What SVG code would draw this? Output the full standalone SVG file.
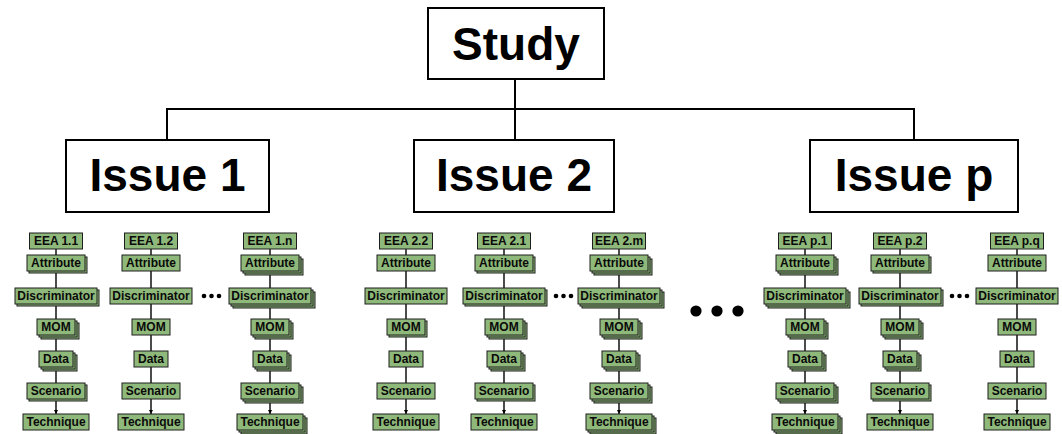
<svg xmlns="http://www.w3.org/2000/svg" width="1062" height="434" viewBox="0 0 1062 434">
  <style>
    .big { fill: #ffffff; stroke: #000000; stroke-width: 2; }
    .bigt { font-family: "Liberation Sans", Arial, sans-serif; font-weight: bold; font-size: 46px; text-anchor: middle; fill: #000000; }
    .tree { fill: none; stroke: #000000; stroke-width: 2; }
    .b { fill: #8fb97a; stroke: #1e1e1e; stroke-width: 1; }
    .t { font-family: "Liberation Sans", Arial, sans-serif; font-weight: bold; font-size: 12px; text-anchor: middle; fill: #0a0a0a; }
    .lnk { fill: none; stroke: #000000; stroke-width: 1.4; marker-end: url(#ah); }
    .dot { fill: #000000; }
  </style>
  <defs>
    <marker id="ah" viewBox="0 0 6 6" refX="6" refY="3" markerWidth="4.5" markerHeight="4.5" markerUnits="userSpaceOnUse" orient="auto">
      <path d="M0,0 L6,3 L0,6 z" fill="#000000"/>
    </marker>
  </defs>

  <!-- top-level hierarchy -->
  <g id="connectors-tree">
    <path class="tree" d="M515,79 V140"/>
    <path class="tree" d="M167,140 V109 H914 V140"/>
  </g>
  <g id="study">
    <rect class="big" x="428" y="8" width="176" height="71"/>
    <text class="bigt" x="516" y="60">Study</text>
  </g>
  <g id="issue-1">
    <rect class="big" x="66" y="140" width="203" height="72"/>
    <text class="bigt" x="167.5" y="191">Issue 1</text>
  </g>
  <g id="issue-2">
    <rect class="big" x="414" y="140" width="200" height="72"/>
    <text class="bigt" x="514" y="191">Issue 2</text>
  </g>
  <g id="issue-p">
    <rect class="big" x="810" y="140" width="208" height="72"/>
    <text class="bigt" x="914" y="191">Issue p</text>
  </g>

  <!-- vertical chains: EEA -> Attribute -> Discriminator -> MOM -> Data -> Scenario -> Technique -->
  <g id="connectors-chains">
    <path class="lnk" d="M56,249 V255 M56,271 V288 M56,304 V319 M56,335 V351 M56,367 V383 M56,399 V414"/>
    <path class="lnk" d="M151,249 V255 M151,271 V288 M151,304 V319 M151,335 V351 M151,367 V383 M151,399 V414"/>
    <path class="lnk" d="M270,249 V255 M270,271 V288 M270,304 V319 M270,335 V351 M270,367 V383 M270,399 V414"/>
    <path class="lnk" d="M406,249 V255 M406,271 V288 M406,304 V319 M406,335 V351 M406,367 V383 M406,399 V414"/>
    <path class="lnk" d="M504,249 V255 M504,271 V288 M504,304 V319 M504,335 V351 M504,367 V383 M504,399 V414"/>
    <path class="lnk" d="M619,249 V255 M619,271 V288 M619,304 V319 M619,335 V351 M619,367 V383 M619,399 V414"/>
    <path class="lnk" d="M805,249 V255 M805,271 V288 M805,304 V319 M805,335 V351 M805,367 V383 M805,399 V414"/>
    <path class="lnk" d="M900,249 V255 M900,271 V288 M900,304 V319 M900,335 V351 M900,367 V383 M900,399 V414"/>
    <path class="lnk" d="M1017,249 V255 M1017,271 V288 M1017,304 V319 M1017,335 V351 M1017,367 V383 M1017,399 V414"/>
  </g>

  <!-- column EEA 1.1 -->
  <g id="eea-1-1" transform="translate(56,233)"><rect class="b" x="-26.5" y="0" width="53" height="16"/><text class="t" x="0" y="12.3">EEA 1.1</text></g>
  <g id="attr-1-1" transform="translate(56,255)"><rect class="b" x="-27" y="2" width="58" height="16"/><rect class="b" x="-29" y="0" width="58" height="16"/><text class="t" x="0" y="12.3">Attribute</text></g>
  <g id="disc-1-1" transform="translate(56,288)"><rect class="b" x="-39" y="2" width="82" height="16"/><rect class="b" x="-41" y="0" width="82" height="16"/><text class="t" x="0" y="12.3">Discriminator</text></g>
  <g id="mom-1-1" transform="translate(56,319)"><rect class="b" x="-15" y="4" width="38" height="16"/><rect class="b" x="-17" y="2" width="38" height="16"/><rect class="b" x="-19" y="0" width="38" height="16"/><text class="t" x="0" y="12.3">MOM</text></g>
  <g id="data-1-1" transform="translate(56,351)"><rect class="b" x="-13" y="4" width="34" height="16"/><rect class="b" x="-15" y="2" width="34" height="16"/><rect class="b" x="-17" y="0" width="34" height="16"/><text class="t" x="0" y="12.3">Data</text></g>
  <g id="scen-1-1" transform="translate(56,383)"><rect class="b" x="-27" y="2" width="58" height="16"/><rect class="b" x="-29" y="0" width="58" height="16"/><text class="t" x="0" y="12.3">Scenario</text></g>
  <g id="tech-1-1" transform="translate(56,414)"><rect class="b" x="-33" y="0" width="66" height="16"/><text class="t" x="0" y="12.3">Technique</text></g>

  <!-- column EEA 1.2 -->
  <g id="eea-1-2" transform="translate(151,233)"><rect class="b" x="-26.5" y="0" width="53" height="16"/><text class="t" x="0" y="12.3">EEA 1.2</text></g>
  <g id="attr-1-2" transform="translate(151,255)"><rect class="b" x="-29" y="0" width="58" height="16"/><text class="t" x="0" y="12.3">Attribute</text></g>
  <g id="disc-1-2" transform="translate(151,288)"><rect class="b" x="-41" y="0" width="82" height="16"/><text class="t" x="0" y="12.3">Discriminator</text></g>
  <g id="mom-1-2" transform="translate(151,319)"><rect class="b" x="-19" y="0" width="38" height="16"/><text class="t" x="0" y="12.3">MOM</text></g>
  <g id="data-1-2" transform="translate(151,351)"><rect class="b" x="-17" y="0" width="34" height="16"/><text class="t" x="0" y="12.3">Data</text></g>
  <g id="scen-1-2" transform="translate(151,383)"><rect class="b" x="-29" y="0" width="58" height="16"/><text class="t" x="0" y="12.3">Scenario</text></g>
  <g id="tech-1-2" transform="translate(151,414)"><rect class="b" x="-33" y="0" width="66" height="16"/><text class="t" x="0" y="12.3">Technique</text></g>

  <!-- column EEA 1.n -->
  <g id="eea-1-n" transform="translate(270,233)"><rect class="b" x="-26.5" y="0" width="53" height="16"/><text class="t" x="0" y="12.3">EEA 1.n</text></g>
  <g id="attr-1-n" transform="translate(270,255)"><rect class="b" x="-25" y="4" width="58" height="16"/><rect class="b" x="-27" y="2" width="58" height="16"/><rect class="b" x="-29" y="0" width="58" height="16"/><text class="t" x="0" y="12.3">Attribute</text></g>
  <g id="disc-1-n" transform="translate(270,288)"><rect class="b" x="-37" y="4" width="82" height="16"/><rect class="b" x="-39" y="2" width="82" height="16"/><rect class="b" x="-41" y="0" width="82" height="16"/><text class="t" x="0" y="12.3">Discriminator</text></g>
  <g id="mom-1-n" transform="translate(270,319)"><rect class="b" x="-15" y="4" width="38" height="16"/><rect class="b" x="-17" y="2" width="38" height="16"/><rect class="b" x="-19" y="0" width="38" height="16"/><text class="t" x="0" y="12.3">MOM</text></g>
  <g id="data-1-n" transform="translate(270,351)"><rect class="b" x="-13" y="4" width="34" height="16"/><rect class="b" x="-15" y="2" width="34" height="16"/><rect class="b" x="-17" y="0" width="34" height="16"/><text class="t" x="0" y="12.3">Data</text></g>
  <g id="scen-1-n" transform="translate(270,383)"><rect class="b" x="-25" y="4" width="58" height="16"/><rect class="b" x="-27" y="2" width="58" height="16"/><rect class="b" x="-29" y="0" width="58" height="16"/><text class="t" x="0" y="12.3">Scenario</text></g>
  <g id="tech-1-n" transform="translate(270,414)"><rect class="b" x="-29" y="4" width="66" height="16"/><rect class="b" x="-31" y="2" width="66" height="16"/><rect class="b" x="-33" y="0" width="66" height="16"/><text class="t" x="0" y="12.3">Technique</text></g>

  <!-- column EEA 2.2 -->
  <g id="eea-2-2" transform="translate(406,233)"><rect class="b" x="-26.5" y="0" width="53" height="16"/><text class="t" x="0" y="12.3">EEA 2.2</text></g>
  <g id="attr-2-2" transform="translate(406,255)"><rect class="b" x="-29" y="0" width="58" height="16"/><text class="t" x="0" y="12.3">Attribute</text></g>
  <g id="disc-2-2" transform="translate(406,288)"><rect class="b" x="-41" y="0" width="82" height="16"/><text class="t" x="0" y="12.3">Discriminator</text></g>
  <g id="mom-2-2" transform="translate(406,319)"><rect class="b" x="-17" y="2" width="38" height="16"/><rect class="b" x="-19" y="0" width="38" height="16"/><text class="t" x="0" y="12.3">MOM</text></g>
  <g id="data-2-2" transform="translate(406,351)"><rect class="b" x="-17" y="0" width="34" height="16"/><text class="t" x="0" y="12.3">Data</text></g>
  <g id="scen-2-2" transform="translate(406,383)"><rect class="b" x="-29" y="0" width="58" height="16"/><text class="t" x="0" y="12.3">Scenario</text></g>
  <g id="tech-2-2" transform="translate(406,414)"><rect class="b" x="-33" y="0" width="66" height="16"/><text class="t" x="0" y="12.3">Technique</text></g>

  <!-- column EEA 2.1 -->
  <g id="eea-2-1" transform="translate(504,233)"><rect class="b" x="-26.5" y="0" width="53" height="16"/><text class="t" x="0" y="12.3">EEA 2.1</text></g>
  <g id="attr-2-1" transform="translate(504,255)"><rect class="b" x="-27" y="2" width="58" height="16"/><rect class="b" x="-29" y="0" width="58" height="16"/><text class="t" x="0" y="12.3">Attribute</text></g>
  <g id="disc-2-1" transform="translate(504,288)"><rect class="b" x="-39" y="2" width="82" height="16"/><rect class="b" x="-41" y="0" width="82" height="16"/><text class="t" x="0" y="12.3">Discriminator</text></g>
  <g id="mom-2-1" transform="translate(504,319)"><rect class="b" x="-15" y="4" width="38" height="16"/><rect class="b" x="-17" y="2" width="38" height="16"/><rect class="b" x="-19" y="0" width="38" height="16"/><text class="t" x="0" y="12.3">MOM</text></g>
  <g id="data-2-1" transform="translate(504,351)"><rect class="b" x="-13" y="4" width="34" height="16"/><rect class="b" x="-15" y="2" width="34" height="16"/><rect class="b" x="-17" y="0" width="34" height="16"/><text class="t" x="0" y="12.3">Data</text></g>
  <g id="scen-2-1" transform="translate(504,383)"><rect class="b" x="-27" y="2" width="58" height="16"/><rect class="b" x="-29" y="0" width="58" height="16"/><text class="t" x="0" y="12.3">Scenario</text></g>
  <g id="tech-2-1" transform="translate(504,414)"><rect class="b" x="-33" y="0" width="66" height="16"/><text class="t" x="0" y="12.3">Technique</text></g>

  <!-- column EEA 2.m -->
  <g id="eea-2-m" transform="translate(619,233)"><rect class="b" x="-26.5" y="0" width="53" height="16"/><text class="t" x="0" y="12.3">EEA 2.m</text></g>
  <g id="attr-2-m" transform="translate(619,255)"><rect class="b" x="-25" y="4" width="58" height="16"/><rect class="b" x="-27" y="2" width="58" height="16"/><rect class="b" x="-29" y="0" width="58" height="16"/><text class="t" x="0" y="12.3">Attribute</text></g>
  <g id="disc-2-m" transform="translate(619,288)"><rect class="b" x="-37" y="4" width="82" height="16"/><rect class="b" x="-39" y="2" width="82" height="16"/><rect class="b" x="-41" y="0" width="82" height="16"/><text class="t" x="0" y="12.3">Discriminator</text></g>
  <g id="mom-2-m" transform="translate(619,319)"><rect class="b" x="-15" y="4" width="38" height="16"/><rect class="b" x="-17" y="2" width="38" height="16"/><rect class="b" x="-19" y="0" width="38" height="16"/><text class="t" x="0" y="12.3">MOM</text></g>
  <g id="data-2-m" transform="translate(619,351)"><rect class="b" x="-13" y="4" width="34" height="16"/><rect class="b" x="-15" y="2" width="34" height="16"/><rect class="b" x="-17" y="0" width="34" height="16"/><text class="t" x="0" y="12.3">Data</text></g>
  <g id="scen-2-m" transform="translate(619,383)"><rect class="b" x="-25" y="4" width="58" height="16"/><rect class="b" x="-27" y="2" width="58" height="16"/><rect class="b" x="-29" y="0" width="58" height="16"/><text class="t" x="0" y="12.3">Scenario</text></g>
  <g id="tech-2-m" transform="translate(619,414)"><rect class="b" x="-29" y="4" width="66" height="16"/><rect class="b" x="-31" y="2" width="66" height="16"/><rect class="b" x="-33" y="0" width="66" height="16"/><text class="t" x="0" y="12.3">Technique</text></g>

  <!-- column EEA p.1 -->
  <g id="eea-p-1" transform="translate(805,233)"><rect class="b" x="-26.5" y="0" width="53" height="16"/><text class="t" x="0" y="12.3">EEA p.1</text></g>
  <g id="attr-p-1" transform="translate(805,255)"><rect class="b" x="-25" y="4" width="58" height="16"/><rect class="b" x="-27" y="2" width="58" height="16"/><rect class="b" x="-29" y="0" width="58" height="16"/><text class="t" x="0" y="12.3">Attribute</text></g>
  <g id="disc-p-1" transform="translate(805,288)"><rect class="b" x="-37" y="4" width="82" height="16"/><rect class="b" x="-39" y="2" width="82" height="16"/><rect class="b" x="-41" y="0" width="82" height="16"/><text class="t" x="0" y="12.3">Discriminator</text></g>
  <g id="mom-p-1" transform="translate(805,319)"><rect class="b" x="-15" y="4" width="38" height="16"/><rect class="b" x="-17" y="2" width="38" height="16"/><rect class="b" x="-19" y="0" width="38" height="16"/><text class="t" x="0" y="12.3">MOM</text></g>
  <g id="data-p-1" transform="translate(805,351)"><rect class="b" x="-13" y="4" width="34" height="16"/><rect class="b" x="-15" y="2" width="34" height="16"/><rect class="b" x="-17" y="0" width="34" height="16"/><text class="t" x="0" y="12.3">Data</text></g>
  <g id="scen-p-1" transform="translate(805,383)"><rect class="b" x="-25" y="4" width="58" height="16"/><rect class="b" x="-27" y="2" width="58" height="16"/><rect class="b" x="-29" y="0" width="58" height="16"/><text class="t" x="0" y="12.3">Scenario</text></g>
  <g id="tech-p-1" transform="translate(805,414)"><rect class="b" x="-29" y="4" width="66" height="16"/><rect class="b" x="-31" y="2" width="66" height="16"/><rect class="b" x="-33" y="0" width="66" height="16"/><text class="t" x="0" y="12.3">Technique</text></g>

  <!-- column EEA p.2 -->
  <g id="eea-p-2" transform="translate(900,233)"><rect class="b" x="-26.5" y="0" width="53" height="16"/><text class="t" x="0" y="12.3">EEA p.2</text></g>
  <g id="attr-p-2" transform="translate(900,255)"><rect class="b" x="-27" y="2" width="58" height="16"/><rect class="b" x="-29" y="0" width="58" height="16"/><text class="t" x="0" y="12.3">Attribute</text></g>
  <g id="disc-p-2" transform="translate(900,288)"><rect class="b" x="-39" y="2" width="82" height="16"/><rect class="b" x="-41" y="0" width="82" height="16"/><text class="t" x="0" y="12.3">Discriminator</text></g>
  <g id="mom-p-2" transform="translate(900,319)"><rect class="b" x="-15" y="4" width="38" height="16"/><rect class="b" x="-17" y="2" width="38" height="16"/><rect class="b" x="-19" y="0" width="38" height="16"/><text class="t" x="0" y="12.3">MOM</text></g>
  <g id="data-p-2" transform="translate(900,351)"><rect class="b" x="-13" y="4" width="34" height="16"/><rect class="b" x="-15" y="2" width="34" height="16"/><rect class="b" x="-17" y="0" width="34" height="16"/><text class="t" x="0" y="12.3">Data</text></g>
  <g id="scen-p-2" transform="translate(900,383)"><rect class="b" x="-27" y="2" width="58" height="16"/><rect class="b" x="-29" y="0" width="58" height="16"/><text class="t" x="0" y="12.3">Scenario</text></g>
  <g id="tech-p-2" transform="translate(900,414)"><rect class="b" x="-33" y="0" width="66" height="16"/><text class="t" x="0" y="12.3">Technique</text></g>

  <!-- column EEA p.q -->
  <g id="eea-p-q" transform="translate(1017,233)"><rect class="b" x="-26.5" y="0" width="53" height="16"/><text class="t" x="0" y="12.3">EEA p.q</text></g>
  <g id="attr-p-q" transform="translate(1017,255)"><rect class="b" x="-29" y="0" width="58" height="16"/><text class="t" x="0" y="12.3">Attribute</text></g>
  <g id="disc-p-q" transform="translate(1017,288)"><rect class="b" x="-41" y="0" width="82" height="16"/><text class="t" x="0" y="12.3">Discriminator</text></g>
  <g id="mom-p-q" transform="translate(1017,319)"><rect class="b" x="-19" y="0" width="38" height="16"/><text class="t" x="0" y="12.3">MOM</text></g>
  <g id="data-p-q" transform="translate(1017,351)"><rect class="b" x="-17" y="0" width="34" height="16"/><text class="t" x="0" y="12.3">Data</text></g>
  <g id="scen-p-q" transform="translate(1017,383)"><rect class="b" x="-29" y="0" width="58" height="16"/><text class="t" x="0" y="12.3">Scenario</text></g>
  <g id="tech-p-q" transform="translate(1017,414)"><rect class="b" x="-33" y="0" width="66" height="16"/><text class="t" x="0" y="12.3">Technique</text></g>

  <!-- ellipses between columns and between issues -->
  <g id="ellipsis-1">
    <circle class="dot" cx="204" cy="296" r="2.3"/><circle class="dot" cx="211.5" cy="296" r="2.3"/><circle class="dot" cx="219" cy="296" r="2.3"/>
  </g>
  <g id="ellipsis-2">
    <circle class="dot" cx="556" cy="296" r="2.3"/><circle class="dot" cx="563.5" cy="296" r="2.3"/><circle class="dot" cx="571" cy="296" r="2.3"/>
  </g>
  <g id="ellipsis-3">
    <circle class="dot" cx="952" cy="296" r="2.3"/><circle class="dot" cx="959.5" cy="296" r="2.3"/><circle class="dot" cx="967" cy="296" r="2.3"/>
  </g>
  <g id="ellipsis-issues">
    <circle class="dot" cx="696" cy="311" r="5.6"/><circle class="dot" cx="717" cy="311" r="5.6"/><circle class="dot" cx="738" cy="311" r="5.6"/>
  </g>
</svg>
